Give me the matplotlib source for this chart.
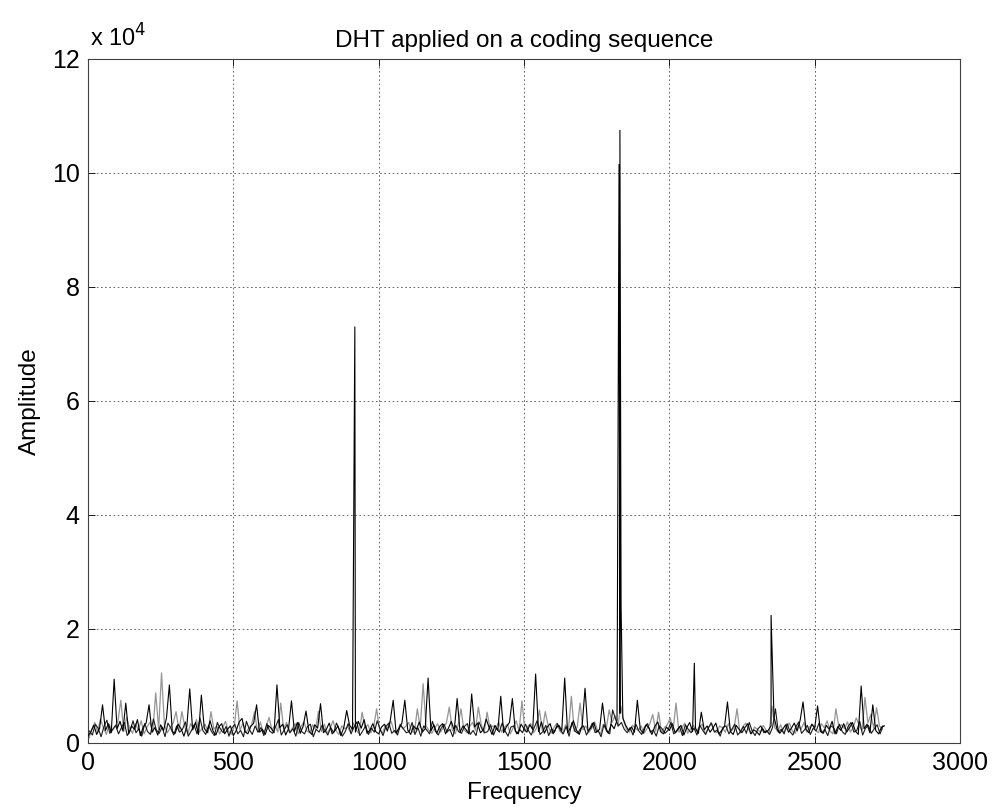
import numpy as np
import matplotlib
matplotlib.use("Agg")
import matplotlib.pyplot as plt
from matplotlib.ticker import FuncFormatter

plt.rcParams['font.family'] = ['Liberation Sans', 'DejaVu Sans']

# ---- data (amplitudes in thousands) ----
black_freq = np.arange(0, 2741, 10)
black_amp_k = [
    1.2, 2.0, 3.1, 1.5, 2.6, 6.7, 2.2, 3.4, 1.8, 11.2,
    2.5, 3.8, 2.1, 7.0, 1.6, 3.0, 2.4, 4.1, 1.3, 2.8,
    3.5, 6.7, 1.9, 2.7, 1.4, 3.2, 2.2, 4.4, 10.2, 2.0,
    1.7, 3.3, 2.5, 1.2, 2.9, 9.5, 2.3, 3.6, 1.5, 8.4,
    2.6, 1.8, 3.9, 2.1, 1.4, 2.8, 3.4, 1.6, 2.4, 3.0,
    1.3, 2.2, 3.7, 4.3, 2.0, 1.6, 2.9, 3.5, 6.7, 1.9,
    2.4, 1.5, 3.1, 2.6, 1.8, 10.2, 2.7, 3.3, 1.4, 2.5,
    7.4, 2.0, 3.6, 1.7, 2.9, 5.6, 2.1, 1.5, 3.2, 2.6,
    6.9, 1.8, 2.4, 3.5, 1.6, 2.2, 3.0, 1.3, 2.7, 5.7,
    3.1, 2.4, 1.9, 3.8, 2.6, 4.1, 1.7, 2.3, 3.4, 2.0,
    1.6, 2.8, 3.3, 2.1, 4.0, 7.5, 1.8, 2.6, 3.5, 7.5,
    2.3, 1.5, 3.0, 2.4, 3.7, 1.9, 2.5, 11.4, 2.1, 3.2,
    1.7, 2.9, 3.4, 1.6, 2.6, 3.8, 2.2, 7.8, 1.9, 3.0,
    2.4, 1.6, 8.6, 2.8, 3.5, 1.8, 2.3, 4.2, 2.7, 1.5,
    3.1, 2.2, 8.2, 1.8, 2.9, 3.6, 7.8, 2.1, 1.6, 3.3,
    2.5, 1.9, 3.2, 2.4, 12.1, 2.0, 3.7, 1.7, 2.8, 3.4,
    1.6, 2.6, 3.1, 2.2, 11.4, 1.8, 2.7, 3.9, 2.3, 1.5,
    3.0, 9.6, 2.1, 2.6, 3.6, 1.9, 2.4, 7.0, 2.9, 1.7,
    3.3, 2.5, 4.0, 5.2, 4.4, 3.1, 2.2, 2.8, 1.9, 7.5,
    2.4, 1.7, 3.2, 2.6, 1.5, 2.9, 3.7, 2.0, 1.6, 2.8,
    2.2, 3.4, 1.8, 2.5, 3.1, 1.4, 2.7, 3.6, 2.0, 2.6,
    1.7, 5.4, 2.3, 3.0, 1.9, 2.6, 3.5, 1.6, 2.2, 2.9,
    7.2, 2.0, 1.5, 3.1, 2.4, 1.8, 2.7, 3.4, 1.6, 2.3,
    2.0, 1.4, 2.6, 1.8, 2.2, 3.0, 4.6, 2.5, 1.7, 2.4,
    3.2, 1.9, 2.6, 3.5, 2.1, 4.0, 7.2, 2.4, 1.8, 3.3,
    2.6, 6.5, 2.0, 1.7, 3.1, 2.4, 3.8, 1.6, 2.9, 2.2,
    3.4, 1.9, 2.7, 3.6, 2.1, 1.5, 10.0, 2.5, 3.3, 1.8,
    6.7, 2.2, 1.6, 2.8, 3.0,
]

# second dark trace (dense low-level noise)
dark_freq = np.arange(5, 2736, 10)
dark_amp_k = [
    2.1, 1.4, 3.3, 2.6, 1.1, 2.9, 4.0, 1.7, 2.4, 3.1,
    1.6, 2.7, 3.6, 1.3, 2.2, 3.9, 1.8, 2.5, 1.2, 3.4,
    2.0, 1.5, 4.2, 2.3, 1.7, 2.8, 1.1, 3.5, 2.6, 1.4,
    3.0, 1.9, 2.4, 3.7, 1.2, 2.1, 3.2, 1.6, 4.4, 2.2,
    1.5, 3.1, 2.0, 1.3, 3.6, 2.5, 1.8, 2.9, 1.2, 2.6,
    3.3, 1.6, 2.2, 1.1, 3.8, 2.4, 1.5, 3.0, 1.9, 2.7,
    1.3, 3.4, 2.1, 1.7, 2.8, 4.1, 1.4, 2.3, 3.2, 1.8,
    2.5, 1.2, 3.6, 2.0, 1.6, 2.9, 3.3, 1.1, 2.4, 1.9,
    3.1, 2.2, 1.4, 2.7, 1.8, 3.5, 2.3, 1.2, 2.0, 3.4,
    1.6, 2.8, 3.7, 1.3, 2.1, 3.0, 1.5, 2.6, 1.9, 3.9,
    2.4, 1.3, 2.9, 3.5, 1.7, 2.2, 1.4, 3.2, 2.5, 1.8,
    2.0, 3.6, 1.5, 2.7, 1.2, 3.0, 2.3, 1.6, 3.8, 2.1,
    1.4, 2.6, 3.3, 1.9, 2.4, 1.1, 3.1, 2.0, 1.7, 2.9,
    3.4, 1.5, 2.2, 1.3, 3.7, 2.5, 1.8, 2.0, 3.2, 1.4,
    2.6, 1.9, 3.5, 2.1, 1.2, 2.8, 3.0, 1.6, 2.4, 1.8,
    3.3, 2.2, 1.4, 2.7, 3.9, 1.5, 2.0, 3.1, 1.3, 2.5,
    1.9, 3.4, 2.3, 1.6, 2.9, 1.2, 3.6, 2.1, 1.7, 2.6,
    3.0, 1.4, 2.4, 3.5, 1.8, 2.2, 1.1, 3.2, 2.0, 1.6,
    5.8, 4.2, 3.0, 3.6, 2.4, 1.8, 2.7, 1.4, 3.3, 2.1,
    1.5, 2.8, 3.4, 1.9, 2.3, 1.2, 3.0, 2.5, 1.7, 2.2,
    3.6, 1.6, 2.0, 2.9, 1.3, 3.2, 2.4, 1.8, 2.6, 1.4,
    3.1, 2.2, 1.5, 2.7, 3.5, 1.9, 2.3, 1.2, 2.8, 3.0,
    1.6, 2.4, 3.3, 1.4, 2.0, 2.9, 1.7, 3.6, 2.1, 1.3,
    2.5, 3.0, 1.8, 2.2, 1.5, 2.7, 6.0, 1.9, 2.4, 1.6,
    3.4, 2.0, 1.4, 2.8, 3.7, 1.7, 2.3, 3.1, 1.5, 2.6,
    2.1, 3.5, 1.8, 2.4, 1.3, 3.0, 2.7, 1.6, 3.3, 2.0,
    1.5, 2.9, 3.6, 1.9, 2.2, 3.8, 1.4, 2.6, 3.1, 1.7,
    2.5, 3.2, 1.6, 3.0,
]

gray_freq = np.arange(3, 2736, 10)
gray_amp_k = [
    0.8, 2.4, 3.6, 1.9, 4.2, 2.7, 1.5, 3.3, 2.1, 2.9,
    3.8, 7.5, 2.0, 4.5, 2.6, 1.7, 3.4, 2.3, 3.9, 1.6,
    2.8, 3.6, 1.9, 8.8, 2.4, 12.3, 3.1, 1.8, 2.7, 3.5,
    5.5, 2.2, 5.5, 2.9, 1.6, 3.4, 2.5, 4.1, 1.9, 2.6,
    3.3, 1.8, 5.5, 2.4, 3.0, 1.6, 2.7, 3.8, 2.1, 1.5,
    2.9, 7.4, 2.2, 3.5, 1.8, 2.6, 3.2, 5.5, 2.0, 3.7,
    1.7, 2.8, 4.5, 2.3, 3.1, 1.9, 7.0, 2.5, 3.6, 1.8,
    2.6, 3.4, 1.6, 2.9, 3.7, 2.1, 1.8, 3.2, 2.4, 5.6,
    2.0, 3.3, 1.7, 2.6, 3.9, 2.2, 1.5, 3.0, 2.5, 2.8,
    1.9, 3.5, 2.3, 1.6, 5.4, 2.7, 3.2, 1.8, 2.9, 6.0,
    2.4, 1.7, 3.1, 2.6, 3.8, 2.0, 1.6, 3.3, 2.5, 2.9,
    3.6, 2.1, 1.8, 6.0, 2.7, 10.4, 3.0, 2.2, 1.7, 2.6,
    3.4, 1.9, 2.8, 3.5, 6.3, 2.3, 1.6, 3.1, 6.0, 2.4,
    1.8, 2.9, 3.6, 2.2, 6.3, 3.2, 1.7, 5.4, 2.6, 3.0,
    2.5, 3.7, 1.9, 2.8, 3.3, 1.6, 2.7, 3.9, 2.1, 7.4,
    2.0, 2.9, 3.4, 1.8, 2.6, 5.8, 2.2, 5.5, 3.1, 1.7,
    2.7, 3.5, 2.1, 1.6, 3.2, 2.4, 8.2, 2.0, 2.8, 7.0,
    2.3, 3.0, 1.8, 2.6, 3.7, 2.2, 1.6, 3.3, 2.5, 5.8,
    3.6, 4.8, 2.9, 6.5, 3.8, 2.4, 1.9, 3.1, 2.6, 2.2,
    3.0, 1.7, 2.5, 3.4, 5.0, 2.1, 5.4, 1.8, 2.7, 3.2,
    4.4, 2.3, 7.0, 1.9, 2.6, 3.5, 1.7, 2.4, 3.1, 2.0,
    2.8, 3.3, 1.6, 2.5, 3.6, 2.2, 1.8, 3.0, 2.6, 1.9,
    3.4, 2.1, 2.7, 6.0, 1.7, 2.9, 3.5, 2.3, 1.6, 2.8,
    2.4, 1.9, 3.1, 2.2, 1.6, 6.5, 2.7, 2.0, 3.2, 1.8,
    2.6, 3.5, 2.1, 1.7, 3.0, 2.4, 3.6, 1.9, 2.8, 3.3,
    2.2, 1.8, 3.4, 2.7, 3.9, 2.1, 1.6, 6.0, 2.9, 3.2,
    2.5, 3.7, 1.9, 2.8, 4.4, 3.1, 2.2, 8.0, 3.5, 5.0,
    2.7, 6.2, 3.0, 2.4,
]

peak_freq = [918, 1822, 1827, 1830, 1834, 2086, 2350]
peak_amp_k = [73.0, 32.0, 101.5, 107.5, 24.0, 14.0, 22.4]

title = "DHT applied on a coding sequence"
xlabel = "Frequency"
ylabel = "Amplitude"
xticks = [0, 500, 1000, 1500, 2000, 2500, 3000]
yticks_e4 = [0, 2, 4, 6, 8, 10, 12]

# merge peaks into the black trace
bf = np.concatenate([black_freq, peak_freq])
ba = np.concatenate([black_amp_k, peak_amp_k]) * 1000.0
order = np.argsort(bf, kind="stable")
bf, ba = bf[order], ba[order]
df = np.asarray(dark_freq)
da = np.asarray(dark_amp_k) * 1000.0
gf = np.asarray(gray_freq)
ga = np.asarray(gray_amp_k) * 1000.0

fig = plt.figure(figsize=(9.92, 8.11), dpi=100)
ax = fig.add_axes([88/992, 1-743/811, (960-88)/992, (743-59)/811])

ax.plot(gf, ga, color="#959595", lw=0.9, zorder=2)
ax.plot(df, da, color="#1a1a1a", lw=0.8, zorder=3)
ax.plot(bf, ba, color="#000000", lw=0.8, zorder=4)

ax.set_xlim(0, 3000)
ax.set_ylim(0, 120000)
ax.set_xticks(xticks)
ax.set_yticks([v * 1e4 for v in yticks_e4])
ax.yaxis.set_major_formatter(FuncFormatter(lambda v, p: f"{v/1e4:g}"))
ax.tick_params(direction="in", length=5, width=0.6, top=True, right=True,
               labelsize=18, pad=6, colors="#000000")
ax.grid(True, color="#505050", linestyle=(0, (2, 3)), linewidth=0.6)
for s in ax.spines.values():
    s.set_linewidth(0.8)
    s.set_color("#404040")

ax.set_title(title, fontsize=17.5, pad=9)
ax.set_xlabel(xlabel, fontsize=17.5, labelpad=5)
ax.set_ylabel(ylabel, fontsize=17.5, labelpad=8)
fig.text(90/992, 1-47/811, r"x 10$^{4}$", fontsize=17, ha="left", va="baseline")

fig.savefig("out.png", dpi=100)
